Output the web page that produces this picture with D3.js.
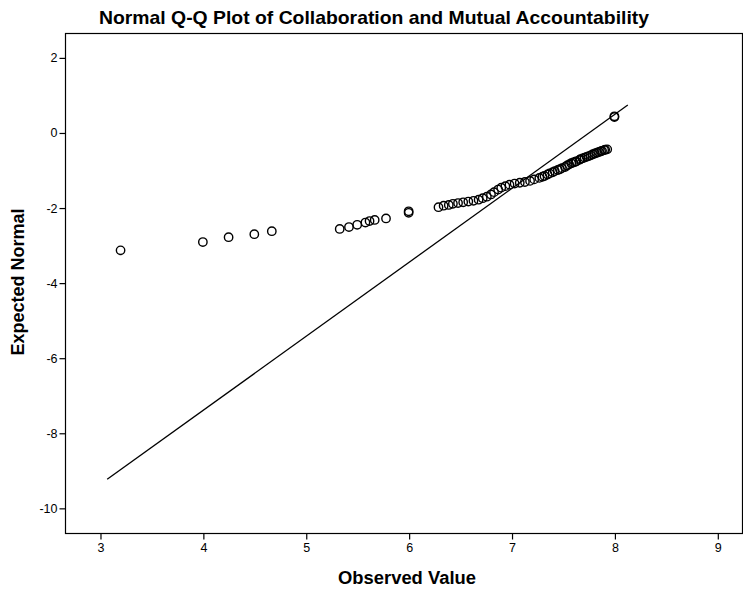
<!DOCTYPE html>
<html>
<head>
<meta charset="utf-8">
<script src="https://cdn.jsdelivr.net/npm/d3@7"></script>
<style>
  html, body { margin: 0; padding: 0; background: #fff; }
  svg { display: block; font-family: "Liberation Sans", Arial, sans-serif; }
</style>
</head>
<body>
<svg id="chart" width="743" height="589"></svg>
<script>
const title = "Normal Q-Q Plot of Collaboration and Mutual Accountability";
const xLabel = "Observed Value";
const yLabel = "Expected Normal";
const xTicks = [3, 4, 5, 6, 7, 8, 9];
const yTicks = [2, 0, -2, -4, -6, -8, -10];

const observed = [
  3.20, 4.00, 4.25, 4.50, 4.67,
  5.33, 5.42, 5.50, 5.58, 5.62, 5.67, 5.78,
  6.00, 6.00,
  6.29, 6.34, 6.39, 6.43, 6.48, 6.53, 6.58, 6.63, 6.68, 6.72, 6.76, 6.80, 6.83, 6.87,
  6.90, 6.94, 6.98, 7.03, 7.08, 7.13, 7.18, 7.22, 7.27, 7.30, 7.32, 7.35, 7.37,
  7.40, 7.42, 7.45, 7.47, 7.49, 7.52, 7.54, 7.56, 7.58, 7.60, 7.62, 7.63, 7.66,
  7.67, 7.69, 7.71, 7.73, 7.75, 7.77, 7.79, 7.81, 7.83, 7.85, 7.87, 7.88, 7.90,
  7.91, 7.93,
  8.00, 8.00
];
const expected = [
  -3.14, -2.92, -2.79, -2.71, -2.63,
  -2.57, -2.52, -2.46, -2.40, -2.36, -2.33, -2.29,
  -2.14, -2.10,
  -1.99, -1.95, -1.93, -1.90, -1.88, -1.86, -1.84, -1.82, -1.79, -1.75, -1.71, -1.65, -1.59, -1.52,
  -1.47, -1.43, -1.39, -1.36, -1.34, -1.32, -1.29, -1.25, -1.21, -1.18, -1.16, -1.12, -1.09,
  -1.06, -1.03, -1.00, -0.98, -0.95, -0.92, -0.88, -0.85, -0.82, -0.80, -0.78, -0.77, -0.73,
  -0.71, -0.69, -0.67, -0.65, -0.63, -0.61, -0.58, -0.56, -0.54, -0.52, -0.50, -0.49, -0.47,
  -0.46, -0.45,
  0.41, 0.43
];
const lineX = [3.07, 8.13];
const lineY = [-9.24, 0.73];

const svg = d3.select("#chart");
const M = { left: 65, top: 33, right: 742, bottom: 533 };

const x = d3.scaleLinear().domain([2.66, 9.24]).range([M.left, M.right]);
const y = d3.scaleLinear().domain([-10.67, 2.65]).range([M.bottom, M.top]);
const fmt = d => String(d);

// frame
svg.append("rect")
  .attr("x", M.left + 0.5).attr("y", M.top + 0.5)
  .attr("width", M.right - M.left).attr("height", M.bottom - M.top)
  .attr("fill", "none").attr("stroke", "#000").attr("stroke-width", 1.2);

// axes
const xAxis = d3.axisBottom(x).tickValues(xTicks).tickSize(6).tickPadding(4).tickFormat(fmt);
const gx = svg.append("g").attr("transform", `translate(0.5,${M.bottom + 0.5})`).call(xAxis);
gx.select(".domain").remove();
gx.selectAll("line").attr("stroke", "#000").attr("stroke-width", 1.2);
gx.selectAll("text").attr("font-size", 12.5).attr("fill", "#000")
  .attr("font-family", "Liberation Sans, Arial, sans-serif");

const yAxis = d3.axisLeft(y).tickValues(yTicks).tickSize(6).tickPadding(2).tickFormat(fmt);
const gy = svg.append("g").attr("transform", `translate(${M.left + 0.5},0.5)`).call(yAxis);
gy.select(".domain").remove();
gy.selectAll("line").attr("stroke", "#000").attr("stroke-width", 1.2);
gy.selectAll("text").attr("font-size", 12.5).attr("fill", "#000")
  .attr("font-family", "Liberation Sans, Arial, sans-serif");

// reference line
svg.append("line")
  .attr("x1", x(lineX[0])).attr("y1", y(lineY[0]))
  .attr("x2", x(lineX[1])).attr("y2", y(lineY[1]))
  .attr("stroke", "#000").attr("stroke-width", 1.3);

// points
const pts = observed.map((v, i) => ({ o: v, e: expected[i] }));
svg.append("g").selectAll("circle").data(pts).join("circle")
  .attr("cx", d => x(d.o)).attr("cy", d => y(d.e)).attr("r", 4.2)
  .attr("fill", "none").attr("stroke", "#000").attr("stroke-width", 1.4);

// titles
svg.append("text").attr("x", 374).attr("y", 24).attr("text-anchor", "middle")
  .attr("font-size", 18.5).attr("font-weight", "bold")
  .attr("textLength", 550).attr("lengthAdjust", "spacingAndGlyphs").text(title);
svg.append("text").attr("x", 407).attr("y", 584).attr("text-anchor", "middle")
  .attr("font-size", 18).attr("font-weight", "bold")
  .attr("textLength", 138).attr("lengthAdjust", "spacingAndGlyphs").text(xLabel);
svg.append("text").attr("transform", "translate(24,282) rotate(-90)").attr("text-anchor", "middle")
  .attr("font-size", 18).attr("font-weight", "bold").text(yLabel);
</script>
</body>
</html>
